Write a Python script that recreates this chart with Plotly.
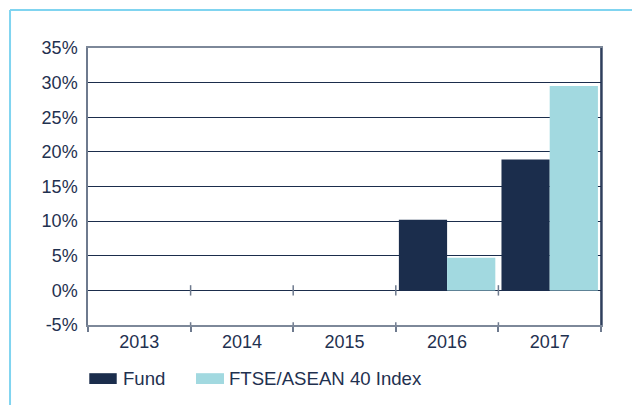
import plotly.graph_objects as go

years = ["2013", "2014", "2015", "2016", "2017"]
fund = [None, None, None, 10.2, 18.9]
index = [None, None, None, 4.7, 29.5]
series_names = ["Fund", "FTSE/ASEAN 40 Index"]
series_colors = ["#1b2d4c", "#a2d9e0"]
y_ticks = [-5, 0, 5, 10, 15, 20, 25, 30, 35]
y_labels = [f"{v}%" for v in y_ticks]

TEXT = "#1f3150"
FONT = "Liberation Sans, Arial, sans-serif"
FS = 18

fig = go.Figure()
for name, vals, col in zip(series_names, [fund, index], series_colors):
    fig.add_trace(go.Bar(x=years, y=vals, name=name, marker=dict(color=col, line=dict(width=0)),
                         showlegend=False))

shapes = []
# outer light-blue frame (top and left edges)
shapes.append(dict(type="line", xref="paper", yref="paper", x0=-0.152, x1=1.07, y0=1.137, y1=1.137,
                   line=dict(color="#80d4f0", width=2)))
shapes.append(dict(type="line", xref="paper", yref="paper", x0=-0.152, x1=-0.152, y0=-0.3, y1=1.137,
                   line=dict(color="#80d4f0", width=2)))
# tick marks crossing the zero line and bottom axis at category boundaries
for b in [0.5, 1.5, 2.5, 3.5]:
    shapes.append(dict(type="line", xref="x", yref="y", x0=b, x1=b, y0=-0.75, y1=0.75,
                       line=dict(color="#6e7a8e", width=1.5)))
    shapes.append(dict(type="line", xref="x", yref="y", x0=b, x1=b, y0=-5, y1=-4.6,
                       line=dict(color="#6e7a8e", width=1.5)))
# custom legend swatches
leg_x = [(0.0025, 0.056), (0.2105, 0.2651)]
text_x = [0.0676, 0.2754]
annotations = []
for (x0, x1), tx, name, col in zip(leg_x, text_x, series_names, series_colors):
    shapes.append(dict(type="rect", xref="paper", yref="paper", x0=x0, x1=x1, y0=-0.213, y1=-0.174,
                       fillcolor=col, line=dict(width=0)))
    annotations.append(dict(xref="paper", yref="paper", x=tx, y=-0.1935, text=name, showarrow=False,
                            xanchor="left", yanchor="middle", xshift=-2,
                            font=dict(family=FONT, size=18.6, color=TEXT)))

fig.update_layout(
    width=632, height=405,
    margin=dict(l=88, r=31, t=48, b=80),
    paper_bgcolor="white", plot_bgcolor="white",
    barmode="group", bargap=0.06, bargroupgap=0,
    font=dict(family=FONT, size=FS, color=TEXT),
    shapes=shapes, annotations=annotations,
    showlegend=False,
)
fig.update_xaxes(type="category", categoryorder="array", categoryarray=years,
                 showgrid=False, showline=True, linecolor="#7d8899", linewidth=1.5, mirror=True,
                 ticks="outside", tickson="boundaries", ticklen=5, tickcolor="#6e7a8e", tickwidth=1.5,
                 tickfont=dict(family=FONT, size=FS, color=TEXT), zeroline=False)
fig.update_yaxes(range=[-5, 35], tickvals=y_ticks, ticktext=y_labels,
                 showgrid=True, gridcolor="#1b2d4c", gridwidth=1,
                 showline=True, linecolor="#6e7a8e", linewidth=1.5, mirror=True,
                 zeroline=True, zerolinecolor="#1b2d4c", zerolinewidth=1.2,
                 ticks="", ticklabelstandoff=5,
                 tickfont=dict(family=FONT, size=FS, color=TEXT))
# right border darker
fig.add_shape(type="line", xref="paper", yref="paper", x0=1, x1=1, y0=0, y1=1,
              line=dict(color="#1b2d4c", width=1.5))

fig.write_html("out.html")
